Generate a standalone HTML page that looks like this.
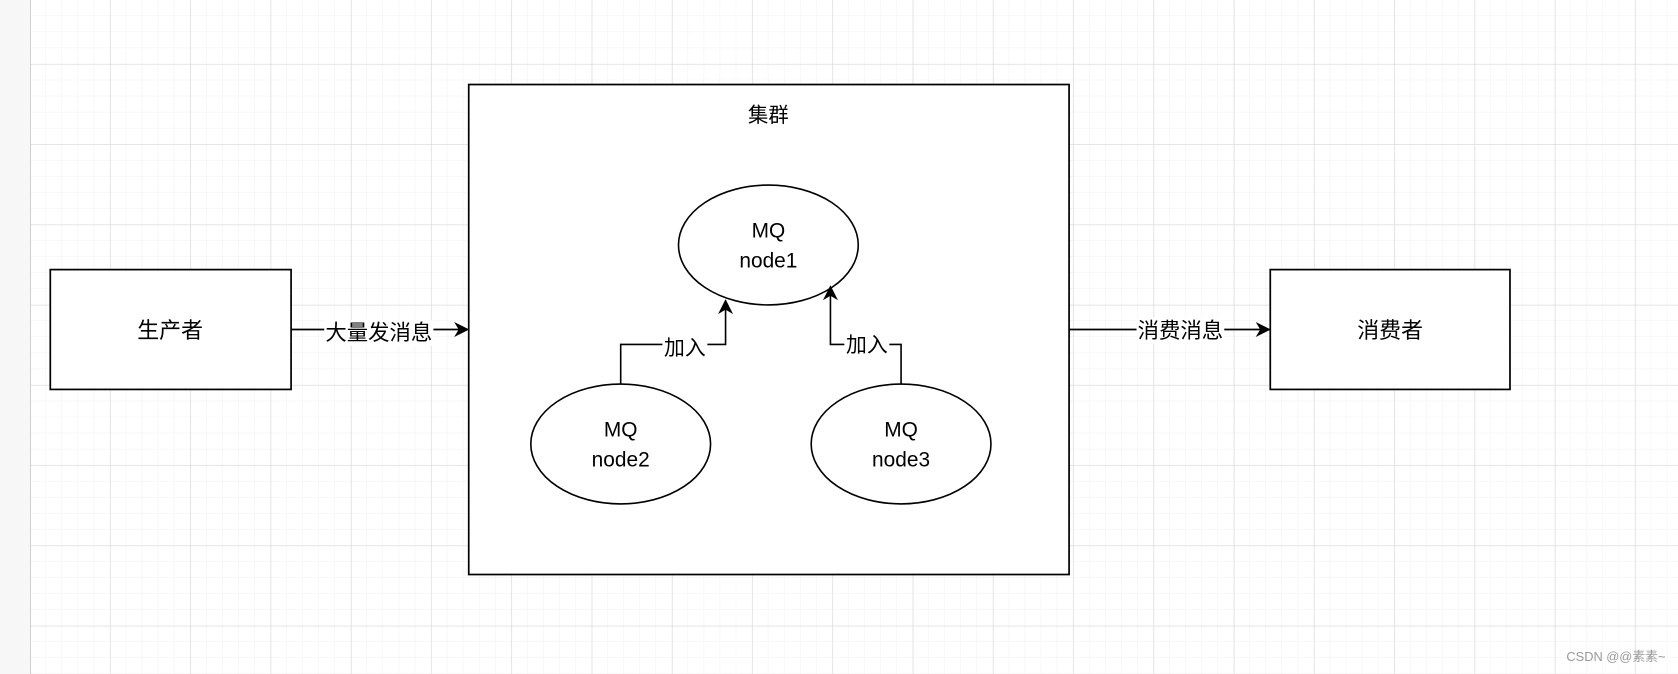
<!DOCTYPE html>
<html><head><meta charset="utf-8"><style>
html,body{margin:0;padding:0;background:#fff;}
svg{display:block;}
text{font-family:"Liberation Sans","Noto Sans CJK SC",sans-serif;fill:#000;}
</style></head><body>
<svg width="1678" height="674" viewBox="0 0 1568 630" preserveAspectRatio="none" xmlns="http://www.w3.org/2000/svg">
<defs>
<pattern id="minor" x="28" y="0" width="15" height="15" patternUnits="userSpaceOnUse">
<path d="M15 0V15M0 15H15" stroke="#f1f1f1" stroke-width="1" fill="none"/>
</pattern>
<pattern id="major" x="28" y="-15" width="75" height="75" patternUnits="userSpaceOnUse">
<path d="M0 0V75M0 0H75" stroke="#d6d6d6" stroke-width="1" fill="none"/>
</pattern>
<marker id="ah" viewBox="0 0 10 10" refX="9" refY="5" markerWidth="11" markerHeight="11" markerUnits="userSpaceOnUse" orient="auto">
<path d="M0 0L10 5L0 10L3 5Z" fill="#000"/>
</marker>
<marker id="ah2" viewBox="0 0 10 10" refX="9" refY="5" markerWidth="14" markerHeight="14" markerUnits="userSpaceOnUse" orient="auto">
<path d="M0 0L10 5L0 10L3 5Z" fill="#000"/>
</marker>
</defs>
<rect x="28" y="0" width="1540" height="630" fill="url(#minor)"/>
<rect x="28" y="0" width="1540" height="630" fill="url(#major)"/>
<rect x="0" y="0" width="28" height="630" fill="#f7f7f7"/>
<line x1="28.5" y1="0" x2="28.5" y2="630" stroke="#d0d0d0"/>

<rect x="47" y="252" width="225" height="112" fill="#fff" stroke="#000" stroke-width="1.6"/>
<text x="159" y="316" font-size="20.5" text-anchor="middle">生产者</text>

<rect x="438" y="79" width="561" height="458" fill="#fff" stroke="#000" stroke-width="1.6"/>
<text x="718" y="114" font-size="19" text-anchor="middle">集群</text>

<rect x="1187" y="252" width="224" height="112" fill="#fff" stroke="#000" stroke-width="1.6"/>
<text x="1299" y="316" font-size="20.5" text-anchor="middle">消费者</text>

<line x1="272" y1="308" x2="437" y2="308" stroke="#000" stroke-width="1.6" marker-end="url(#ah2)"/>
<rect x="303" y="299" width="102" height="24" fill="#fff"/>
<text x="354" y="318" font-size="20" text-anchor="middle">大量发消息</text>

<line x1="999" y1="308" x2="1186" y2="308" stroke="#000" stroke-width="1.6" marker-end="url(#ah2)"/>
<rect x="1062" y="297" width="82" height="24" fill="#fff"/>
<text x="1103" y="316" font-size="20" text-anchor="middle">消费消息</text>

<ellipse cx="718" cy="229" rx="84" ry="56" fill="#fff" stroke="#000" stroke-width="1.5"/>
<text x="718" y="222" font-size="19.5" text-anchor="middle">MQ</text>
<text x="718" y="250" font-size="19.5" text-anchor="middle">node1</text>

<ellipse cx="580" cy="415" rx="84" ry="56" fill="#fff" stroke="#000" stroke-width="1.5"/>
<text x="580" y="408" font-size="19.5" text-anchor="middle">MQ</text>
<text x="580" y="436" font-size="19.5" text-anchor="middle">node2</text>

<ellipse cx="842" cy="415" rx="84" ry="56" fill="#fff" stroke="#000" stroke-width="1.5"/>
<text x="842" y="408" font-size="19.5" text-anchor="middle">MQ</text>
<text x="842" y="436" font-size="19.5" text-anchor="middle">node3</text>

<path d="M580 359V322H678V281" fill="none" stroke="#000" stroke-width="1.5" marker-end="url(#ah2)"/>
<rect x="619" y="313" width="42" height="22" fill="#fff"/>
<text x="640" y="332" font-size="19.5" text-anchor="middle">加入</text>

<path d="M842 359V322H776V268" fill="none" stroke="#000" stroke-width="1.5" marker-end="url(#ah2)"/>
<rect x="789" y="311" width="42" height="22" fill="#fff"/>
<text x="810" y="329" font-size="19.5" text-anchor="middle">加入</text>

<text x="1510" y="618" font-size="12" style="fill:#999" text-anchor="middle">CSDN @@素素~</text>
</svg>
</body></html>
